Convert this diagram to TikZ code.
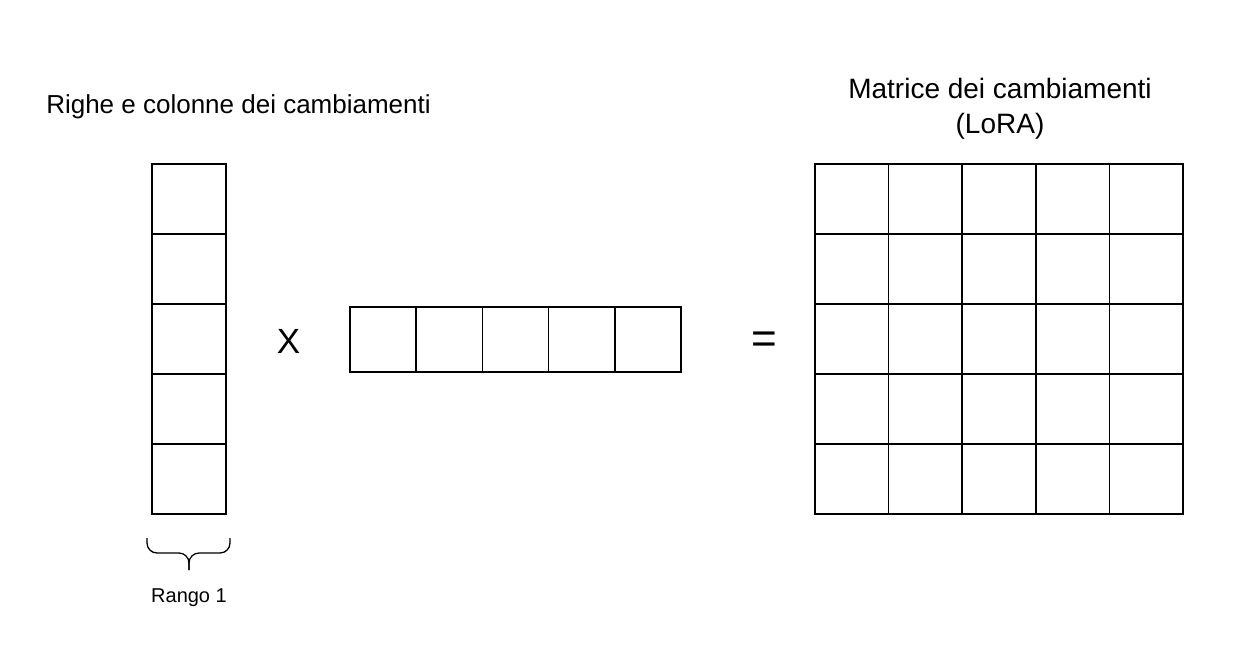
\documentclass[tikz,border=0pt]{standalone}
\usepackage{fontspec}
\setmainfont{Liberation Sans}
\begin{document}
\begin{tikzpicture}[x=1pt,y=-1pt]
		%%%%% START %%%%%
		\tikzset{
			cell/.style={draw=black, line width=1.7pt},
			title/.style={inner sep=0pt, font=\fontsize{26}{35}\selectfont},
			sign/.style={inner sep=0pt, font=\fontsize{35}{40}\selectfont}
		}
		\useasboundingbox (0, 0) rectangle (1234, 657);
		
		\node[title, anchor=base] (righe) at (238.5, 113) {Righe e colonne dei cambiamenti};
		\node[title, align=center, anchor=base, font=\fontsize{28}{35}\selectfont] (matrice) at (1000, 133) {Matrice dei cambiamenti\\(LoRA)};
		
		% colonna
		\foreach \i in {0,...,4}
			\draw[cell] (152, {164+70*\i}) rectangle (226, {234+70*\i});
		
		\node[sign, anchor=base] (per) at (288.5, 353) {X};
		
		% riga
		\foreach \i in {0,...,4}
			\draw[cell] ({350+66.2*\i}, 307) rectangle ({416.2+66.2*\i}, 372);
		
		\node[sign, font=\fontsize{44}{48}\selectfont] (uguale) at (764, 343) {=};
		
		% matrice 5x5
		\foreach \i in {0,...,4}
			\foreach \j in {0,...,4}
				\draw[cell] ({815+73.6*\i}, {164+70*\j}) rectangle ({888.6+73.6*\i}, {234+70*\j});
		
		\draw[line width=1.3pt, rounded corners=10pt] (147, 538) -- (147, 553) -- (189, 553) -- (189, 570);
		\draw[line width=1.3pt, rounded corners=10pt] (230, 538) -- (230, 553) -- (189, 553) -- (189, 570);
		\node[inner sep=0pt, anchor=base, font=\fontsize{20}{24}\selectfont] (rango) at (189, 602) {Rango 1};
		
		%%%%% END %%%%%
\end{tikzpicture}
\end{document}
